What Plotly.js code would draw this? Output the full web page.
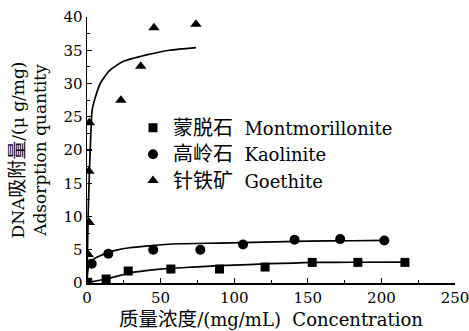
<!DOCTYPE html>
<html>
<head>
<meta charset="utf-8">
<script src="https://cdn.plot.ly/plotly-3.0.1.min.js"></script>
<style>html,body{margin:0;padding:0;background:#fff;}#chart{width:469px;height:331px;}</style>
</head>
<body>
<div id="chart"></div>
<script>
// Series names
const seriesNames = ["蒙脱石\u00a0\u00a0Montmorillonite", "高岭石\u00a0\u00a0Kaolinite", "针铁矿\u00a0\u00a0Goethite"];
const montX = [0.5, 13, 28, 57, 90, 121, 153, 184, 216];
const montY = [0.1, 0.6, 1.8, 2.1, 2.1, 2.4, 3.1, 3.1, 3.1];
const kaolX = [3.2, 14.5, 45, 77, 106, 141, 172, 202];
const kaolY = [2.9, 4.4, 5.0, 5.0, 5.8, 6.5, 6.6, 6.4];
const goetX = [0.8, 1.5, 1.3, 1.6, 23, 36.5, 45.5, 74];
const goetY = [4.3, 9.1, 16.8, 24.1, 27.5, 32.6, 38.4, 38.9];
// Fitted curves
const montFitX = [0, 2, 6, 13, 20, 29, 40, 56, 72, 90, 110, 124, 140, 155, 180, 216];
const montFitY = [0, 0.1, 0.3, 0.6, 1.0, 1.5, 1.85, 2.2, 2.4, 2.6, 2.75, 2.9, 3.0, 3.1, 3.12, 3.15];
const kaolFitX = [0, 0.5, 1.5, 3, 6, 10, 14, 20, 29, 40, 63, 90, 120, 150, 180, 202];
const kaolFitY = [0, 1.8, 2.8, 3.3, 3.8, 4.2, 4.6, 4.95, 5.3, 5.55, 5.9, 6.0, 6.15, 6.3, 6.35, 6.4];
const goetFitX = [0, 0.5, 1, 2, 3, 3.5, 5.5, 9, 15.6, 24.5, 40.5, 56, 74];
const goetFitY = [0, 7, 12, 19, 24.5, 26, 27.8, 30, 32, 33.3, 34.3, 35.0, 35.4];
// Tick labels
const xTicks = [0, 50, 100, 150, 200, 250];
const yTicks = [0, 5, 10, 15, 20, 25, 30, 35, 40];

const FONT = "DejaVu Serif, Noto Sans CJK SC, serif";
const cjk = s => '<span style="font-size:20px">' + s + '</span>';
function legendName(n) {
  const cn = n.slice(0, 3);
  return cjk(cn) + n.slice(3);
}

const lineStyle = {color: "#000", width: 1.7, shape: "spline", smoothing: 0.6};
const traces = [
  {x: montFitX, y: montFitY, mode: "lines", line: lineStyle, showlegend: false, hoverinfo: "skip"},
  {x: kaolFitX, y: kaolFitY, mode: "lines", line: lineStyle, showlegend: false, hoverinfo: "skip"},
  {x: goetFitX, y: goetFitY, mode: "lines", line: lineStyle, showlegend: false, hoverinfo: "skip"},
  {x: montX, y: montY, mode: "markers", name: legendName(seriesNames[0]), marker: {symbol: "square", size: 9, color: "#000"}},
  {x: kaolX, y: kaolY, mode: "markers", name: legendName(seriesNames[1]), marker: {symbol: "circle", size: 10, color: "#000"}},
  {x: goetX, y: goetY, mode: "markers", name: legendName(seriesNames[2]), marker: {symbol: "triangle-up", size: 10, color: "#000"}}
];

const layout = {
  width: 469, height: 331,
  margin: {l: 87, r: 14, t: 17, b: 48},
  paper_bgcolor: "#fff", plot_bgcolor: "#fff",
  font: {family: FONT, color: "#000", size: 15},
  showlegend: true,
  legend: {x: 0.125, y: 0.652, xanchor: "left", yanchor: "top", bgcolor: "rgba(0,0,0,0)",
           font: {family: FONT, size: 18, color: "#000"}, tracegroupgap: 0, itemwidth: 30},
  xaxis: {
    range: [0, 250], tickvals: xTicks, ticktext: xTicks.map(String),
    showline: true, linecolor: "#000", linewidth: 1.5, mirror: false,
    ticks: "inside", ticklen: 5, tickwidth: 1.2, tickcolor: "#000",
    minor: {dtick: 25, ticks: "inside", ticklen: 3, tickwidth: 1, tickcolor: "#000"},
    showgrid: false, zeroline: false, automargin: false, ticklabeloverflow: "allow",
    tickfont: {family: FONT, size: 15, color: "#000"},
    title: {text: '<span style="font-size:19.5px">质量浓度</span>/(mg/mL)\u00a0\u00a0Concentration\u00a0\u00a0\u00a0\u00a0\u00a0\u00a0',
            font: {family: FONT, size: 18, color: "#000"}, standoff: 8}
  },
  yaxis: {
    range: [0, 40], tickvals: yTicks, ticktext: yTicks.map(String),
    showline: true, linecolor: "#000", linewidth: 1.5, mirror: false,
    ticks: "inside", ticklen: 5, tickwidth: 1.2, tickcolor: "#000",
    minor: {dtick: 2.5, ticks: "inside", ticklen: 3, tickwidth: 1, tickcolor: "#000"},
    showgrid: false, zeroline: false, automargin: false, ticklabeloverflow: "allow",
    tickfont: {family: FONT, size: 15, color: "#000"},
    title: {text: 'DNA<span style="font-size:19px">吸附量</span>/(μ g/mg)<br>Adsorption quantity',
            font: {family: FONT, size: 17, color: "#000"}, standoff: 12}
  }
};

Plotly.newPlot("chart", traces, layout, {staticPlot: true, displayModeBar: false});
</script>
</body>
</html>
